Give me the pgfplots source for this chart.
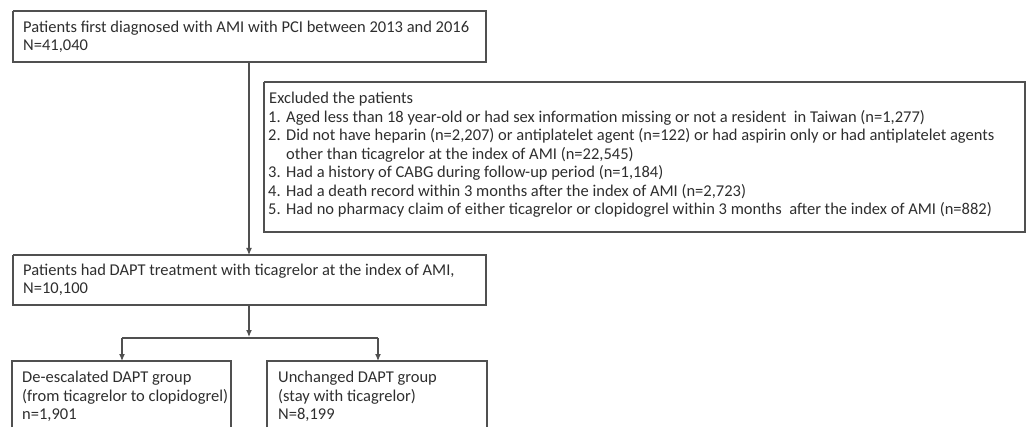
\documentclass[border=0pt]{standalone}
\usepackage{fontspec}
\setmainfont{Carlito}
\usepackage{pgfplots}
\pgfplotsset{compat=1.18}
\usetikzlibrary{arrows.meta}
\definecolor{edge}{HTML}{505050}
\definecolor{txt}{HTML}{2E2E2E}
\tikzset{bx/.style={edge, solid, line width=1.1pt, line join=miter, mark=none},
         ar/.style={bx, -{Latex[length=7pt,width=6pt]}}}
\begin{document}
\begin{tikzpicture}
\begin{axis}[
  x=1pt, y=1pt, xmin=0, xmax=1031, ymin=0, ymax=426, y dir=reverse,
  hide axis, clip=false, scale only axis,
]
% invisible frame
\addplot[draw=none, mark=none] coordinates {(0,0) (1031,426)};
% boxes
\addplot[bx] coordinates {(13,11) (486,11) (486,62) (13,62) (13,11)};
\addplot[bx] coordinates {(264,82) (1025,82) (1025,232) (264,232) (264,82)};
\addplot[bx] coordinates {(13,255) (486,255) (486,305) (13,305) (13,255)};
\addplot[bx] coordinates {(12,427) (12,361) (231,361) (231,427)};
\addplot[bx] coordinates {(267,427) (267,361) (487,361) (487,427)};
% connectors
\addplot[ar] coordinates {(249,62) (249,255)};
\addplot[ar] coordinates {(249,305) (249,337)};
\addplot[bx] coordinates {(122,338) (378,338)};
\addplot[ar] coordinates {(122,338) (122,361)};
\addplot[ar] coordinates {(378,338) (378,361)};
% texts
\begin{scope}[every node/.style={anchor=base west, inner sep=0pt, text=txt, font=\fontsize{16.5}{18}\selectfont}]
\node at (axis cs:23,33) {Patients first diagnosed with AMI with PCI between 2013 and 2016};
\node at (axis cs:23,51) {N=41,040};
\node at (axis cs:269,104) {Excluded the patients};
\node at (axis cs:268,123) {1.};
\node at (axis cs:286,123) {Aged less than 18 year-old or had sex information missing or not a resident \ in Taiwan (n=1,277)};
\node at (axis cs:268,141) {2.};
\node at (axis cs:286,141) {Did not have heparin (n=2,207) or antiplatelet agent (n=122) or had aspirin only or had antiplatelet agents};
\node at (axis cs:286,160) {other than ticagrelor at the index of AMI (n=22,545)};
\node at (axis cs:268,178) {3.};
\node at (axis cs:286,178) {Had a history of CABG during follow-up period (n=1,184)};
\node at (axis cs:268,197) {4.};
\node at (axis cs:286,197) {Had a death record within 3 months after the index of AMI (n=2,723)};
\node at (axis cs:268,215) {5.};
\node at (axis cs:286,215) {Had no pharmacy claim of either ticagrelor or clopidogrel within 3 months \ after the index of AMI (n=882)};
\node at (axis cs:23,276) {Patients had DAPT treatment with ticagrelor at the index of AMI,};
\node at (axis cs:23,294) {N=10,100};
\node at (axis cs:22,382) {De-escalated DAPT group};
\node at (axis cs:22,401) {(from ticagrelor to clopidogrel)};
\node at (axis cs:22,419) {n=1,901};
\node at (axis cs:278,382) {Unchanged DAPT group};
\node at (axis cs:278,401) {(stay with ticagrelor)};
\node at (axis cs:278,419) {N=8,199};
\end{scope}
\end{axis}
\end{tikzpicture}
\end{document}
